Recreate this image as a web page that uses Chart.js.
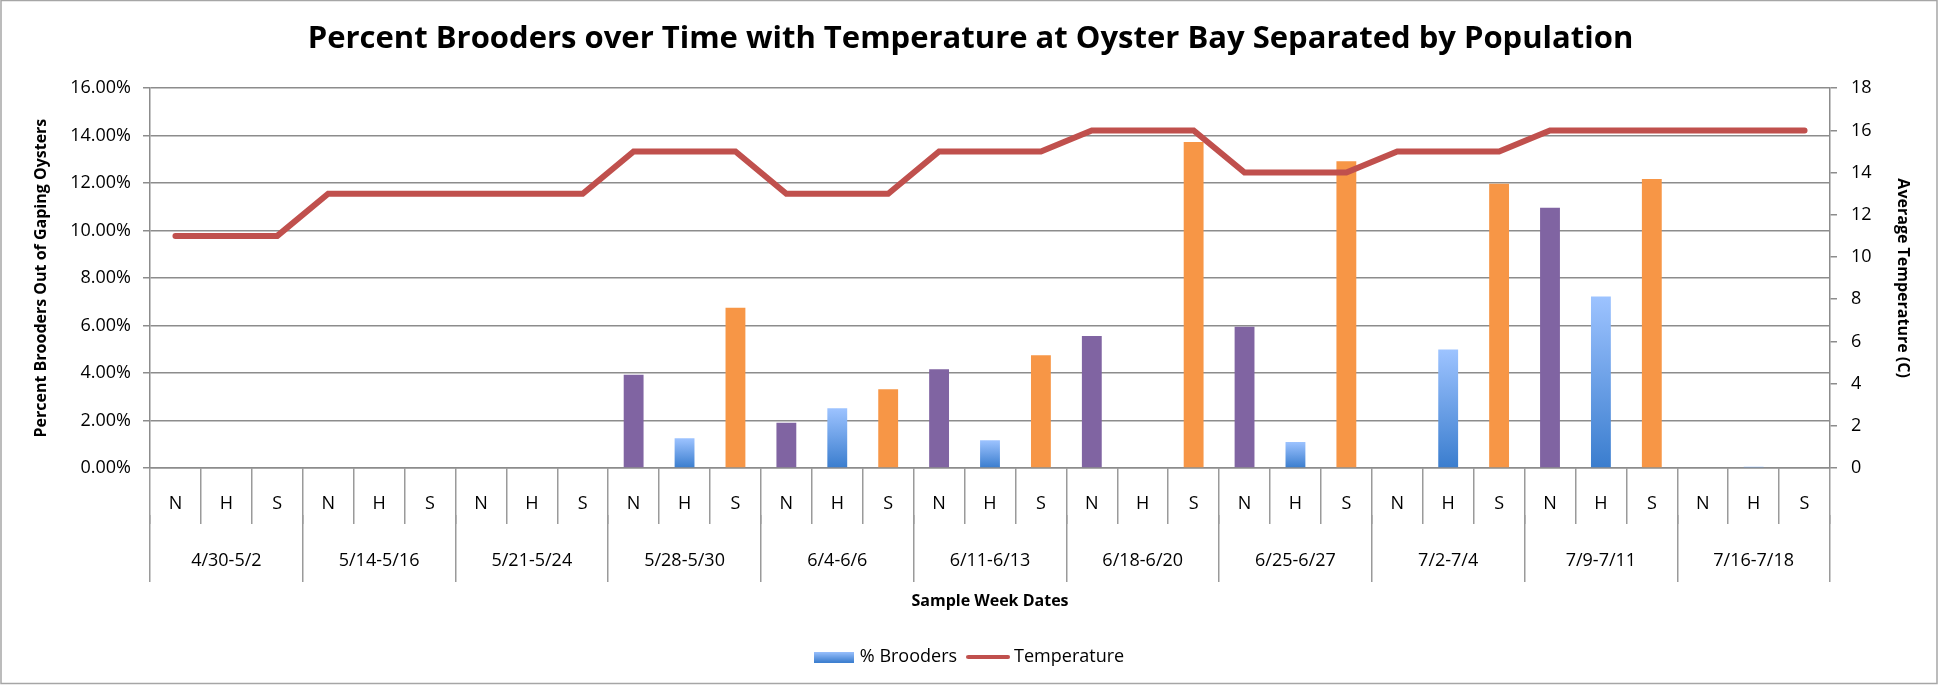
<!DOCTYPE html>
<html>
<head>
<meta charset="utf-8">
<script src="https://cdn.jsdelivr.net/npm/chart.js@4.4.1/dist/chart.umd.min.js"></script>
<style>
  html, body { margin: 0; padding: 0; background: #fff; }
  #wrap { width: 1941px; height: 687px; position: relative; }
</style>
</head>
<body>
<div id="wrap"><canvas id="myChart"></canvas></div>
<script>
(() => {
  'use strict'

  // sample weeks and populations (N / H / S)
  const weeks = ['4/30-5/2', '5/14-5/16', '5/21-5/24', '5/28-5/30', '6/4-6/6', '6/11-6/13',
    '6/18-6/20', '6/25-6/27', '7/2-7/4', '7/9-7/11', '7/16-7/18']
  const populations = ['N', 'H', 'S']

  // % brooders per week, one array per population
  const brooderN = [0, 0, 0, 3.93, 1.91, 4.16, 5.56, 5.95, 0, 10.96, 0]
  const brooderH = [0, 0, 0, 1.25, 2.52, 1.17, 0, 1.10, 4.99, 7.22, 0.05]
  const brooderS = [0, 0, 0, 6.75, 3.32, 4.75, 13.73, 12.92, 11.97, 12.18, 0]

  // average temperature (C) per week
  const temperature = [11, 13, 13, 15, 13, 15, 16, 14, 15, 16, 16]

  const leftTicks = [0, 2, 4, 6, 8, 10, 12, 14, 16]
  const rightTicks = [0, 2, 4, 6, 8, 10, 12, 14, 16, 18]

  const labels = []
  const brooders = []
  const temps = []
  weeks.forEach((w, i) => {
    labels.push(...populations)
    brooders.push(brooderN[i], brooderH[i], brooderS[i])
    temps.push(temperature[i], temperature[i], temperature[i])
  })

  const font = 'Open Sans'
  const gridColor = '#8c8c8c'
  const purple = '#8064A2'
  const orange = '#F79646'
  const red = '#C0504D'

  function barColor(c) {
    const k = c.dataIndex % 3
    if (k === 0) return purple
    if (k === 2) return orange
    const chart = c.chart
    const y = chart.scales.y
    if (!chart.chartArea || !y) return '#5b93dd'
    const top = y.getPixelForValue(c.raw)
    const bottom = y.getPixelForValue(0)
    if (!isFinite(top) || !isFinite(bottom) || top >= bottom - 0.5) return '#5b93dd'
    const g = chart.ctx.createLinearGradient(0, top, 0, bottom)
    g.addColorStop(0, '#9DC3FF')
    g.addColorStop(1, '#3A7DCE')
    return g
  }

  // legend swatches
  const boxSwatch = document.createElement('canvas')
  boxSwatch.width = 40
  boxSwatch.height = 11
  {
    const c = boxSwatch.getContext('2d')
    const g = c.createLinearGradient(0, 0, 0, 11)
    g.addColorStop(0, '#9DC3FF')
    g.addColorStop(1, '#3A7DCE')
    c.fillStyle = g
    c.fillRect(0, 0, 40, 11)
  }
  const lineSwatch = document.createElement('canvas')
  lineSwatch.width = 44
  lineSwatch.height = 6
  {
    const c = lineSwatch.getContext('2d')
    c.strokeStyle = red
    c.lineWidth = 4
    c.lineCap = 'round'
    c.beginPath()
    c.moveTo(2, 3)
    c.lineTo(42, 3)
    c.stroke()
  }

  const frame = {
    id: 'frame',
    beforeDraw(chart) {
      const ctx = chart.ctx
      ctx.save()
      ctx.strokeStyle = '#a6a6a6'
      ctx.lineWidth = 1.5
      ctx.strokeRect(1, 0.5, 1936, 683)
      ctx.restore()
    }
  }

  new Chart(document.getElementById('myChart'), {
    data: {
      labels,
      datasets: [
        {
          type: 'line',
          label: 'Temperature',
          data: temps,
          borderColor: red,
          backgroundColor: red,
          borderWidth: 6,
          borderCapStyle: 'round',
          borderJoinStyle: 'miter',
          pointRadius: 0,
          tension: 0,
          fill: false,
          xAxisID: 'x',
          yAxisID: 'y1',
          order: 1
        },
        {
          type: 'bar',
          label: '% Brooders',
          data: brooders,
          backgroundColor: barColor,
          barPercentage: 0.39,
          categoryPercentage: 1,
          xAxisID: 'x',
          yAxisID: 'y',
          order: 2
        }
      ]
    },
    options: {
      responsive: true,
      maintainAspectRatio: false,
      animation: false,
      layout: { padding: { left: 10, right: 10, top: 0, bottom: 11 } },
      plugins: {
        title: {
          display: true,
          text: 'Percent Brooders over Time with Temperature at Oyster Bay Separated by Population',
          color: '#000',
          font: { family: font, size: 31, weight: 'bold' },
          padding: { top: 21, bottom: 30 }
        },
        legend: {
          display: true,
          position: 'bottom',
          labels: {
            usePointStyle: true,
            pointStyleWidth: 34,
            padding: 14,
            color: '#000',
            font: { family: font, size: 18 },
            generateLabels: () => [
              { text: '% Brooders', pointStyle: boxSwatch, datasetIndex: 1, lineWidth: 0, strokeStyle: 'transparent', fillStyle: 'transparent' },
              { text: 'Temperature', pointStyle: lineSwatch, datasetIndex: 0, lineWidth: 0, strokeStyle: 'transparent', fillStyle: 'transparent' }
            ]
          }
        },
        tooltip: { enabled: false }
      },
      scales: {
        x: {
          type: 'category',
          position: 'bottom',
          offset: true,
          grid: {
            display: true,
            offset: true,
            drawOnChartArea: false,
            drawTicks: true,
            tickLength: 56,
            color: '#9a9a9a',
            lineWidth: 1.5
          },
          border: { display: true, color: gridColor, width: 1.5 },
          ticks: {
            color: '#000',
            font: { family: font, size: 18 },
            padding: -31,
            maxRotation: 0,
            autoSkip: false
          },
          afterFit: s => { s.height = 47 }
        },
        x2: {
          type: 'category',
          axis: 'x',
          position: 'bottom',
          labels: weeks,
          offset: true,
          grid: {
            display: true,
            offset: true,
            drawOnChartArea: false,
            drawTicks: true,
            tickLength: 67,
            color: '#9a9a9a',
            lineWidth: 1.5
          },
          border: { display: false },
          ticks: {
            color: '#000',
            font: { family: font, size: 18 },
            padding: -32,
            maxRotation: 0,
            autoSkip: false
          },
          title: {
            display: true,
            text: 'Sample Week Dates',
            color: '#000',
            font: { family: font, size: 16, weight: 'bold' },
            padding: { top: 0, bottom: 23 }
          },
          afterFit: s => { s.height = 119 }
        },
        y: {
          type: 'linear',
          position: 'left',
          min: 0,
          max: 16,
          afterBuildTicks: s => { s.ticks = leftTicks.map(v => ({ value: v })) },
          grid: { color: gridColor, lineWidth: 1.5, tickLength: 7 },
          border: { color: gridColor, width: 1.5 },
          ticks: {
            color: '#000',
            font: { family: font, size: 18 },
            padding: 12,
            callback: v => v.toFixed(2) + '%'
          },
          title: {
            display: true,
            text: 'Percent Brooders Out of Gaping Oysters',
            color: '#000',
            font: { family: font, size: 16, weight: 'bold' },
            padding: { top: 22, bottom: 0 }
          },
          afterFit: s => { s.width = 140 }
        },
        y1: {
          type: 'linear',
          position: 'right',
          min: 0,
          max: 18,
          afterBuildTicks: s => { s.ticks = rightTicks.map(v => ({ value: v })) },
          grid: { drawOnChartArea: false, color: gridColor, lineWidth: 1.5, tickLength: 7 },
          border: { color: gridColor, width: 1.5 },
          ticks: {
            color: '#000',
            font: { family: font, size: 18 },
            padding: 14
          },
          title: {
            display: true,
            text: 'Average Temperature (C)',
            color: '#000',
            font: { family: font, size: 16, weight: 'bold' },
            padding: { top: 19, bottom: 0 }
          },
          afterFit: s => { s.width = 101 }
        }
      }
    },
    plugins: [frame]
  })
})()
</script>
</body>
</html>
